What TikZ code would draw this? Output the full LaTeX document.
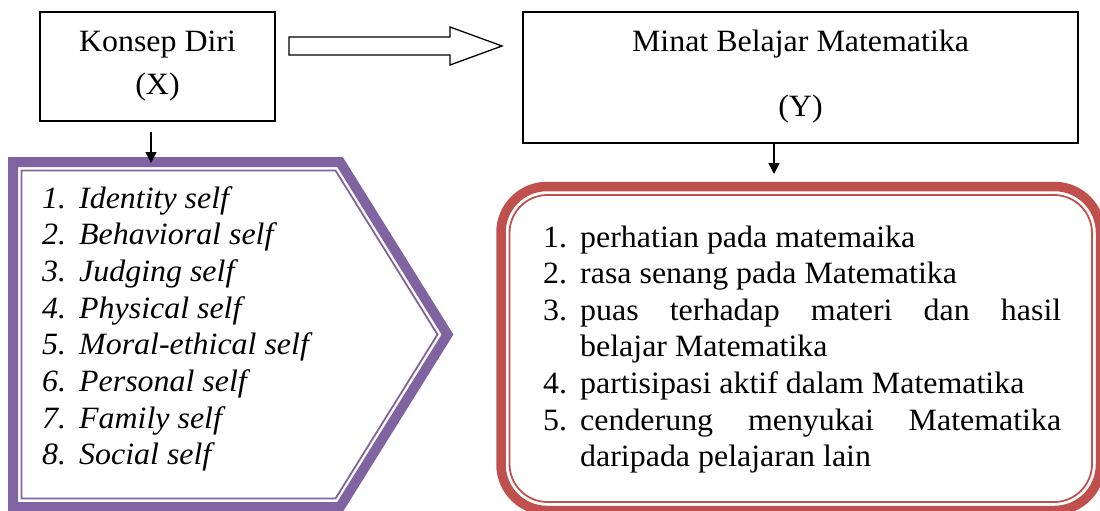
\documentclass[tikz,border=0pt]{standalone}
\usepackage{fontspec}
\setmainfont{Liberation Serif}[FakeStretch=1.03]
\usetikzlibrary{arrows.meta}
\definecolor{purp}{HTML}{8064A2}
\definecolor{redb}{HTML}{C0504D}
\begin{document}
\begin{tikzpicture}[x=1pt,y=-1pt,
  big/.style={font=\fontsize{31}{36}\selectfont, inner sep=0},
  itm/.style={big, anchor=base west},
  itmi/.style={big, anchor=base west, font=\fontsize{31}{36}\selectfont\itshape},
  varbox/.style={draw, line width=1.3pt, fill=white, inner sep=0},
  arr/.style={line width=1.5pt, -{Triangle[length=11pt,width=11pt]}},
  thickp/.style={draw=purp, line width=10pt, line join=miter},
  thinp/.style={draw=purp, line width=1.8pt, line join=miter},
  thickr/.style={draw=redb, line width=9.5pt},
  thinr/.style={draw=redb, line width=1.8pt}]
\useasboundingbox (0,0) rectangle (1100,511);
\fill[white] (0,0) rectangle (1100,511);

% boxes
\node[varbox, minimum width=235pt, minimum height=109pt] (kd) at (157.5,66.5) {};
\node[big, anchor=base] (kdt) at (157.5,52) {Konsep Diri};
\node[big, anchor=base] (kdx) at (157.5,94) {(X)};

\node[varbox, minimum width=555pt, minimum height=131pt] (mb) at (800.5,77.5) {};
\node[big, anchor=base] (mbt) at (800.5,52) {Minat Belajar Matematika};
\node[big, anchor=base] (mby) at (800.5,116) {(Y)};

% block arrow
\draw[line width=1.3pt, fill=white, line join=miter] (289,37) -- (450,37) -- (450,27) -- (502,46) -- (450,65) -- (450,55) -- (289,55) -- cycle;

% purple pentagon
\draw[thickp] (13,162) -- (340,162) -- (447.5,334.5) -- (340,507) -- (13,507) -- cycle;
\draw[thinp] (21.5,170.5) -- (335.5,170.5) -- (437.5,334.5) -- (335.5,498.5) -- (21.5,498.5) -- cycle;

% red rounded box
\draw[thickr, rounded corners=46pt] (501,186.5) rectangle (1100.5,510.5);
\draw[thinr, rounded corners=38pt] (509.5,195) rectangle (1092,502);

% arrows
\coordinate (a1s) at (151,132);
\coordinate (a1e) at (151,163);
\draw[arr] (a1s) -- (a1e);
\coordinate (a2s) at (774,143);
\coordinate (a2e) at (774,174);
\draw[arr] (a2s) -- (a2e);

% left list
\foreach \n/\t [count=\i from 0] in {1/Identity self,2/Behavioral self,3/Judging self,4/Physical self,5/Moral-ethical self,6/Personal self,7/Family self,8/Social self}{
  \node[itmi] (ln\n) at (42,208.3+36.67*\i) {\n.};
  \node[itmi] (lt\n) at (79,208.3+36.67*\i) {\t};
}

% right list
\node[itm] (rn1) at (543,247) {1.};
\node[itm] (rt1) at (580,247) {perhatian pada matemaika};
\node[itm] (rn2) at (543,283.6) {2.};
\node[itm] (rt2) at (580,283.6) {rasa senang pada Matematika};
\node[itm] (rn3) at (543,320.2) {3.};
\node[itm] (rt3) at (580,320.2) {\makebox[481pt][s]{puas terhadap materi dan hasil}};
\node[itm] (rt3b) at (580,356.8) {belajar Matematika};
\node[itm] (rn4) at (543,393.4) {4.};
\node[itm] (rt4) at (580,393.4) {partisipasi aktif dalam Matematika};
\node[itm] (rn5) at (543,430) {5.};
\node[itm] (rt5) at (580,430) {\makebox[481pt][s]{cenderung menyukai Matematika}};
\node[itm] (rt5b) at (580,466.6) {daripada pelajaran lain};
\end{tikzpicture}
\end{document}
